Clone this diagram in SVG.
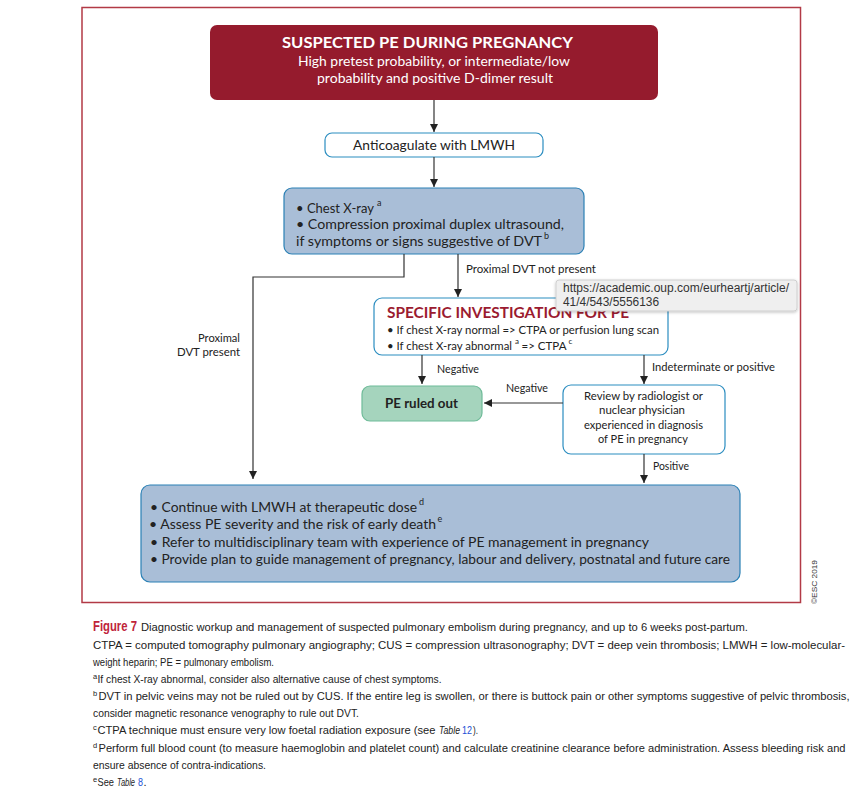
<svg xmlns="http://www.w3.org/2000/svg" width="865" height="802" viewBox="0 0 865 802">
<defs>
<marker id="ah" viewBox="0 0 10 10" refX="10" refY="5" markerWidth="8" markerHeight="8" markerUnits="userSpaceOnUse" orient="auto">
<path d="M0,0 L10,5 L0,10 z" fill="#222"/>
</marker>
<filter id="sh" x="-5%" y="-20%" width="110%" height="150%">
<feDropShadow dx="0" dy="1" stdDeviation="1.5" flood-color="#000" flood-opacity="0.25"/>
</filter>
</defs>
<style>
text{font-family:Lato,"Open Sans","Liberation Sans",sans-serif;fill:#222}
.w{fill:#fff}
.t{font-size:14px}
.s{font-size:12px}
.l{font-size:11px}
.b{font-weight:bold}
.sup{font-size:9px}
.cap{font-family:"Liberation Sans",sans-serif;font-size:11px;fill:#222}
.csup{font-family:"Liberation Sans",sans-serif;font-size:7.5px;fill:#222}
.it{font-style:italic}
.lnk{fill:#1a4fd6}
.con{fill:none;stroke:#333;stroke-width:1.2}
.tip{font-family:"Liberation Sans",sans-serif;font-size:12px;fill:#333}
</style>
<rect x="82" y="7.5" width="718.5" height="595" fill="#fff" stroke="#b23a46" stroke-width="1.5"/>

<g id="n-start">
<rect x="210" y="25" width="448" height="75" rx="7" fill="#951b2d"/>
<text x="282" y="48" class="b w" style="font-size:15.5px" textLength="291" lengthAdjust="spacingAndGlyphs">SUSPECTED PE DURING PREGNANCY</text>
<text x="298" y="66" class="t w" textLength="272" lengthAdjust="spacingAndGlyphs">High pretest probability, or intermediate/low</text>
<text x="317" y="83" class="t w" textLength="236" lengthAdjust="spacingAndGlyphs">probability and positive D-dimer result</text>
</g>

<g id="n-anticoag">
<rect x="325" y="133" width="218" height="24" rx="7" fill="#fff" stroke="#2b8dc0" stroke-width="1.2"/>
<text x="353" y="150" class="t" textLength="162" lengthAdjust="spacingAndGlyphs">Anticoagulate with LMWH</text>
</g>

<g id="n-xray">
<rect x="284" y="188" width="300" height="66" rx="8" fill="#a9bed7" stroke="#2b80b5" stroke-width="1.2"/>
<text x="296" y="213" class="t" textLength="78" lengthAdjust="spacingAndGlyphs">• Chest X-ray</text>
<text x="377" y="206" class="sup">a</text>
<text x="296" y="229" class="t" textLength="268" lengthAdjust="spacingAndGlyphs">• Compression proximal duplex ultrasound,</text>
<text x="296" y="246" class="t" textLength="246" lengthAdjust="spacingAndGlyphs">if symptoms or signs suggestive of DVT</text>
<text x="544" y="239" class="sup">b</text>
</g>

<g id="n-specific">
<rect x="374" y="298" width="294" height="57" rx="8" fill="#fff" stroke="#2b8dc0" stroke-width="1.2"/>
<text x="387" y="318" class="b" style="font-size:15.5px;fill:#9b1b30" textLength="242" lengthAdjust="spacingAndGlyphs">SPECIFIC INVESTIGATION FOR PE</text>
<text x="387" y="334" class="s" textLength="272" lengthAdjust="spacingAndGlyphs">• If chest X-ray normal =&gt; CTPA or perfusion lung scan</text>
<text x="387" y="350" class="s" textLength="125" lengthAdjust="spacingAndGlyphs">• If chest X-ray abnormal</text>
<text x="515" y="343.5" class="sup" style="font-size:8px">a</text>
<text x="521.5" y="350" class="s" textLength="45" lengthAdjust="spacingAndGlyphs">=&gt; CTPA</text>
<text x="568.5" y="343.5" class="sup" style="font-size:8px">c</text>
</g>

<g id="n-ruledout">
<rect x="362" y="386" width="120" height="35" rx="8" fill="#a5d4bd" stroke="#6fbb99" stroke-width="1.2"/>
<text x="385" y="408" class="b t" textLength="73" lengthAdjust="spacingAndGlyphs">PE ruled out</text>
</g>

<g id="n-review">
<rect x="563" y="385" width="162" height="69" rx="8" fill="#fff" stroke="#2b8dc0" stroke-width="1.2"/>
<text x="584" y="400" class="s" textLength="119" lengthAdjust="spacingAndGlyphs">Review by radiologist or</text>
<text x="599" y="414" class="s" textLength="86" lengthAdjust="spacingAndGlyphs">nuclear physician</text>
<text x="584" y="429" class="s" textLength="119" lengthAdjust="spacingAndGlyphs">experienced in diagnosis</text>
<text x="598" y="443" class="s" textLength="90" lengthAdjust="spacingAndGlyphs">of PE in pregnancy</text>
</g>

<g id="n-manage">
<rect x="141" y="485" width="599" height="97" rx="9" fill="#a9bed7" stroke="#2b80b5" stroke-width="1.2"/>
<text x="150" y="512" class="t" textLength="267" lengthAdjust="spacingAndGlyphs">• Continue with LMWH at therapeutic dose</text>
<text x="419" y="504.5" class="sup">d</text>
<text x="149" y="529" class="t" textLength="287" lengthAdjust="spacingAndGlyphs">• Assess PE severity and the risk of early death</text>
<text x="437.5" y="521.5" class="sup">e</text>
<text x="150" y="547" class="t" textLength="499" lengthAdjust="spacingAndGlyphs">• Refer to multidisciplinary team with experience of PE management in pregnancy</text>
<text x="150" y="564" class="t" textLength="580" lengthAdjust="spacingAndGlyphs">• Provide plan to guide management of pregnancy, labour and delivery, postnatal and future care</text>
</g>

<g id="connectors">
<path class="con" d="M434,100 V132" marker-end="url(#ah)"/>
<path class="con" d="M434,157 V187" marker-end="url(#ah)"/>
<path class="con" d="M404,254 V277 H253 V479" marker-end="url(#ah)"/>
<path class="con" d="M458,254 V297" marker-end="url(#ah)"/>
<path class="con" d="M422,355 V384" marker-end="url(#ah)"/>
<path class="con" d="M644,355 V384" marker-end="url(#ah)"/>
<path class="con" d="M563,403 H484" marker-end="url(#ah)"/>
<path class="con" d="M644,454 V483" marker-end="url(#ah)"/>
<text x="466" y="273" class="l" textLength="130" lengthAdjust="spacingAndGlyphs">Proximal DVT not present</text>
<text x="198" y="342" class="l" textLength="42" lengthAdjust="spacingAndGlyphs">Proximal</text>
<text x="177" y="356" class="l" textLength="63" lengthAdjust="spacingAndGlyphs">DVT present</text>
<text x="437" y="373" class="l" textLength="42" lengthAdjust="spacingAndGlyphs">Negative</text>
<text x="652" y="371" class="l" textLength="123" lengthAdjust="spacingAndGlyphs">Indeterminate or positive</text>
<text x="506" y="392" class="l" textLength="42" lengthAdjust="spacingAndGlyphs">Negative</text>
<text x="653" y="470" class="l" textLength="36" lengthAdjust="spacingAndGlyphs">Positive</text>
</g>

<g id="tooltip">
<rect x="556" y="280" width="241" height="31" rx="3" fill="#efefef" stroke="#c8c8c8" stroke-width="0.8" filter="url(#sh)"/>
<text x="563" y="292" class="tip" textLength="226" lengthAdjust="spacingAndGlyphs">https://academic.oup.com/eurheartj/article/</text>
<text x="563" y="306" class="tip" textLength="96" lengthAdjust="spacingAndGlyphs">41/4/543/5556136</text>
</g>

<text transform="translate(817,604) rotate(-90)" style="font-family:'Liberation Sans',sans-serif;font-size:8px;fill:#333" textLength="44" lengthAdjust="spacingAndGlyphs">©ESC 2019</text>

<g id="caption">
<text x="93" y="631" style="font-family:'Liberation Sans',sans-serif;font-weight:bold;fill:#c0243a;font-size:14px" textLength="44" lengthAdjust="spacingAndGlyphs">Figure 7</text>
<text x="141" y="631" class="cap" textLength="607" lengthAdjust="spacingAndGlyphs">Diagnostic workup and management of suspected pulmonary embolism during pregnancy, and up to 6 weeks post-partum.</text>
<text x="93" y="649" class="cap" textLength="752" lengthAdjust="spacingAndGlyphs">CTPA = computed tomography pulmonary angiography; CUS = compression ultrasonography; DVT = deep vein thrombosis; LMWH = low-molecular-</text>
<text x="93" y="666" class="cap" textLength="181" lengthAdjust="spacingAndGlyphs">weight heparin; PE = pulmonary embolism.</text>
<text x="93" y="679" class="csup">a</text>
<text x="97.5" y="683" class="cap" textLength="344" lengthAdjust="spacingAndGlyphs">If chest X-ray abnormal, consider also alternative cause of chest symptoms.</text>
<text x="93" y="696" class="csup">b</text>
<text x="98.5" y="700" class="cap" textLength="751" lengthAdjust="spacingAndGlyphs">DVT in pelvic veins may not be ruled out by CUS. If the entire leg is swollen, or there is buttock pain or other symptoms suggestive of pelvic thrombosis,</text>
<text x="93" y="717" class="cap" textLength="266" lengthAdjust="spacingAndGlyphs">consider magnetic resonance venography to rule out DVT.</text>
<text x="93" y="730" class="csup">c</text>
<text x="97.5" y="734" class="cap" textLength="338" lengthAdjust="spacingAndGlyphs">CTPA technique must ensure very low foetal radiation exposure (see</text>
<text x="439" y="734" class="cap it" textLength="21" lengthAdjust="spacingAndGlyphs">Table</text>
<text x="462" y="734" class="cap lnk" textLength="10" lengthAdjust="spacingAndGlyphs">12</text>
<text x="473" y="734" class="cap" textLength="5" lengthAdjust="spacingAndGlyphs">).</text>
<text x="93" y="748" class="csup">d</text>
<text x="98.5" y="752" class="cap" textLength="747" lengthAdjust="spacingAndGlyphs">Perform full blood count (to measure haemoglobin and platelet count) and calculate creatinine clearance before administration. Assess bleeding risk and</text>
<text x="93" y="769" class="cap" textLength="173" lengthAdjust="spacingAndGlyphs">ensure absence of contra-indications.</text>
<text x="93" y="782" class="csup">e</text>
<text x="97.5" y="786" class="cap" textLength="16.5" lengthAdjust="spacingAndGlyphs">See</text>
<text x="117" y="786" class="cap it" textLength="18" lengthAdjust="spacingAndGlyphs">Table</text>
<text x="138" y="786" class="cap lnk" textLength="5" lengthAdjust="spacingAndGlyphs">8</text>
<text x="143.5" y="786" class="cap">.</text>
</g>
</svg>
